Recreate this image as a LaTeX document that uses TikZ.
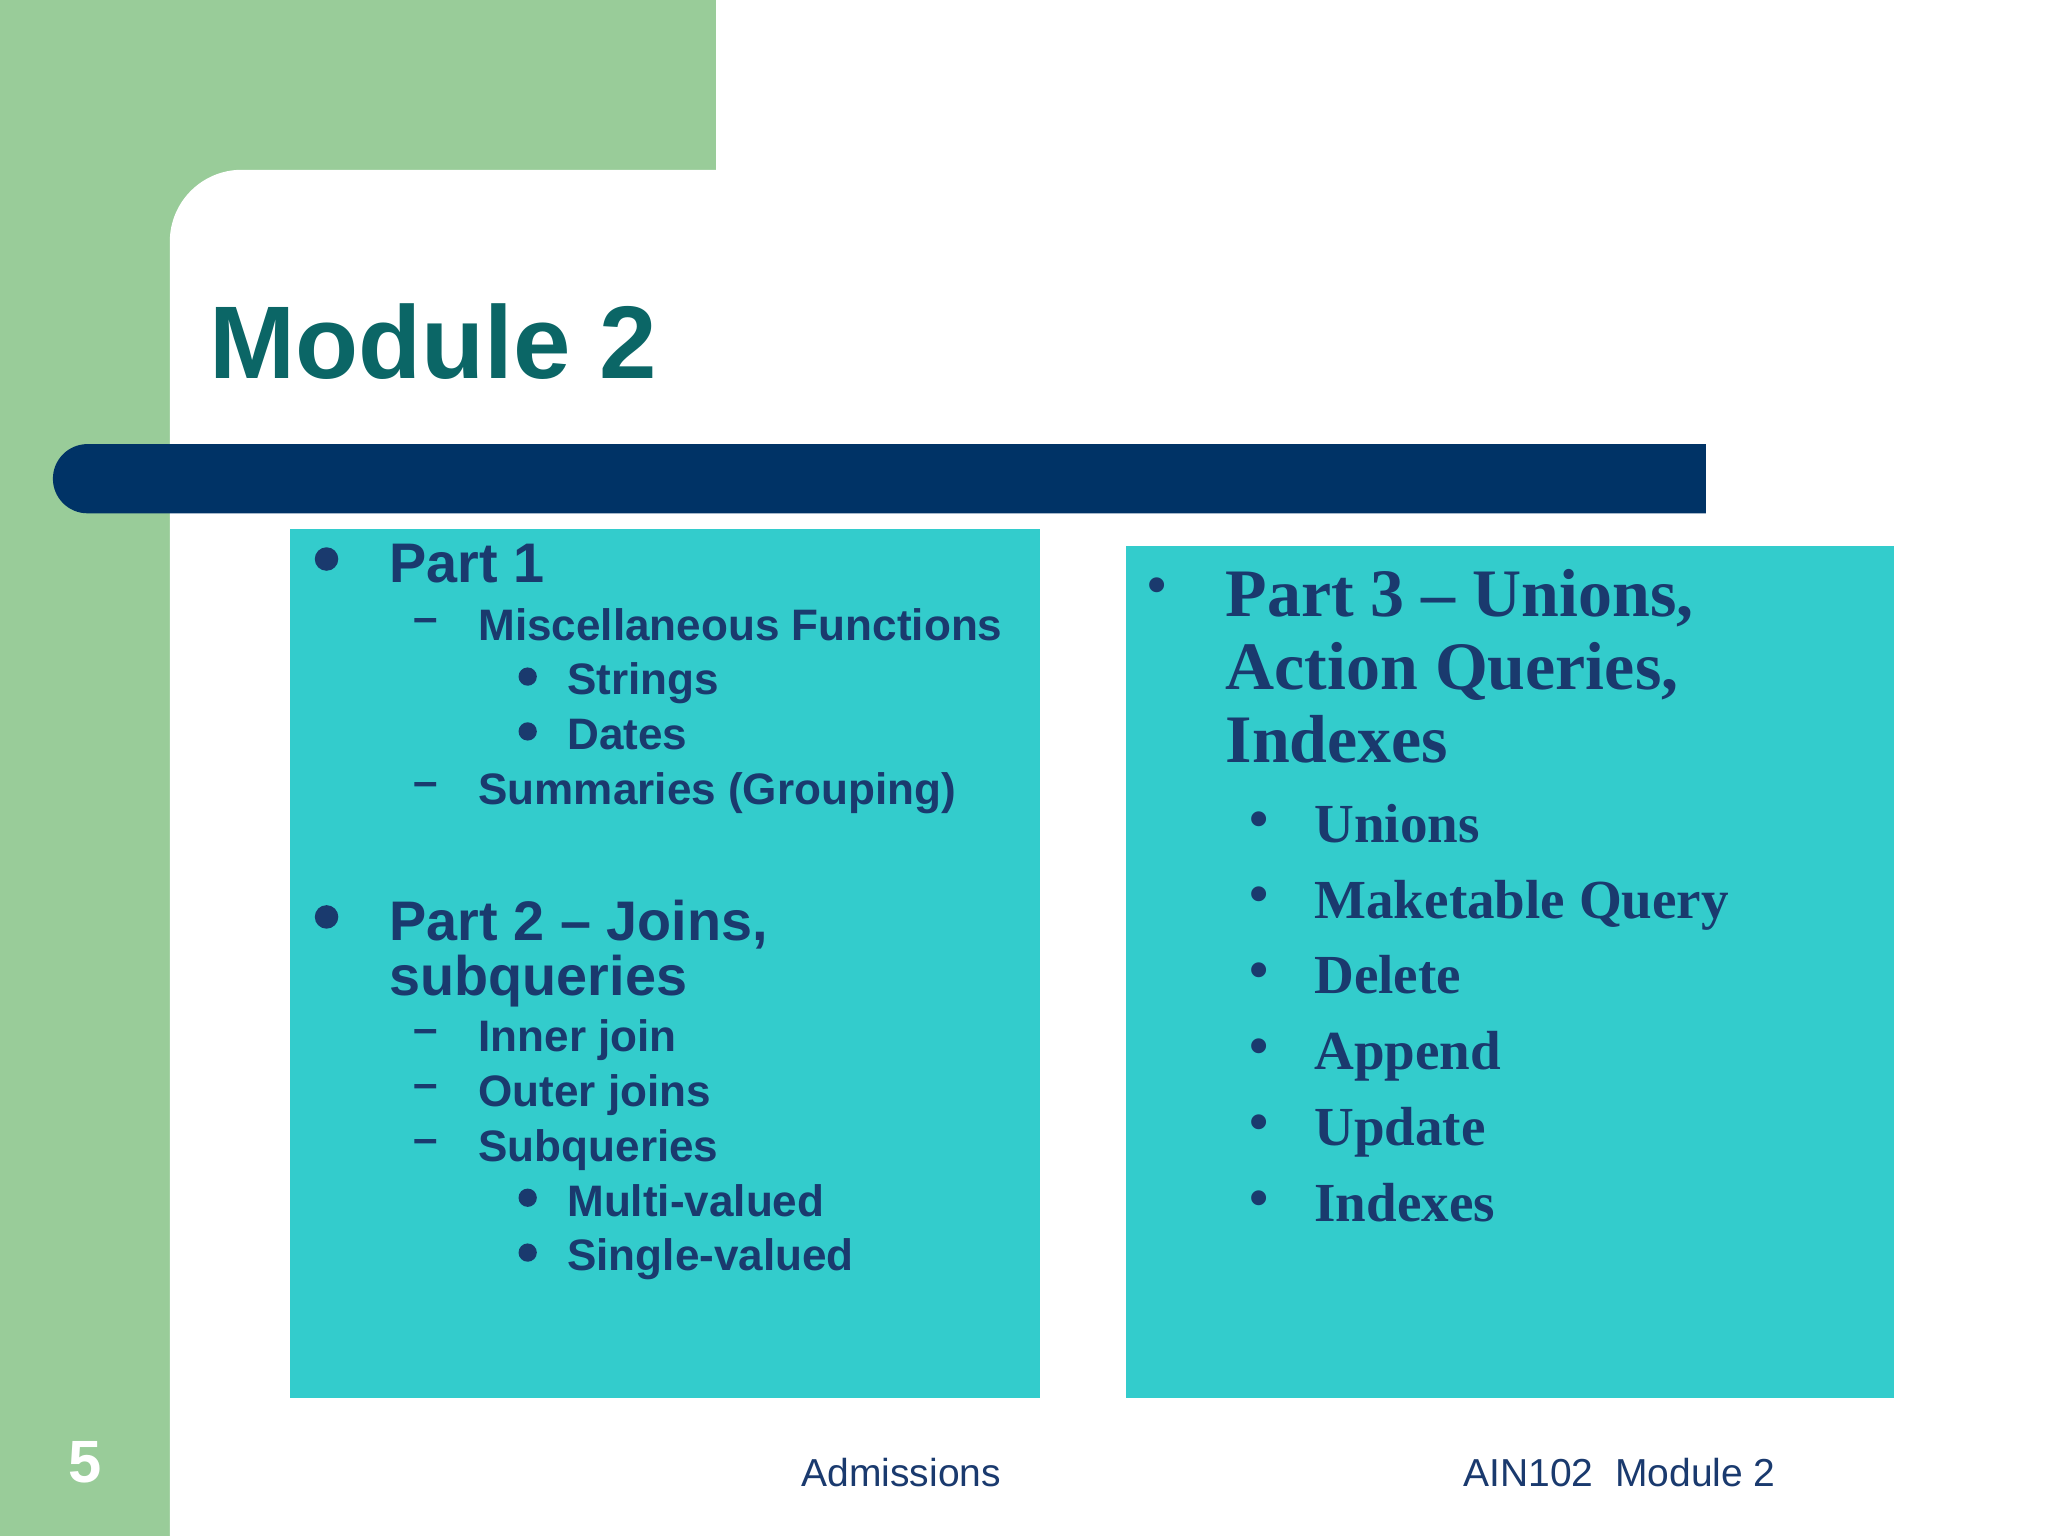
\documentclass[tikz,border=0pt]{standalone}
\usepackage{fontspec}
\setmainfont{Liberation Sans}
\newfontfamily\serifb{Liberation Serif}
\definecolor{lgreen}{HTML}{99CC99}
\definecolor{navy}{HTML}{003366}
\definecolor{teal2}{HTML}{0B6666}
\definecolor{cyanbox}{HTML}{33CCCC}
\definecolor{txt}{HTML}{1A3A6E}
\begin{document}
\begin{tikzpicture}[x=0.02cm,y=-0.02cm,
  lt/.style={anchor=base west,inner sep=0,text=txt,font=\bfseries\fontsize{24.3}{26}\selectfont},
  ls/.style={anchor=base west,inner sep=0,text=txt,font=\bfseries\fontsize{19.2}{21}\selectfont},
  rt/.style={anchor=base west,inner sep=0,text=txt,font=\serifb\bfseries\fontsize{29.6}{31}\selectfont},
  rs/.style={anchor=base west,inner sep=0,text=txt,font=\serifb\bfseries\fontsize{24}{26}\selectfont},
  ft/.style={anchor=base,inner sep=0,text=txt,font=\fontsize{17}{19}\selectfont}]
\useasboundingbox (0,0) rectangle (1568,1176);
\fill[white] (0,0) rectangle (1568,1176);
\fill[lgreen] (0,0) rectangle (548,130);
\fill[lgreen] (0,0) rectangle (130,1176);
\fill[lgreen] (130,130) rectangle (185,185);
\fill[white] (130,1176) -- (130,185) arc[start angle=180,end angle=270,radius=55] -- (548,130) -- (548,1176) -- cycle;
\node[anchor=base west,inner sep=0,text=teal2,font=\bfseries\fontsize{45}{48}\selectfont] (title) at (160,290) {Module 2};
\fill[navy] (1306,340) -- (67,340) arc[start angle=270,end angle=90,radius=26.5] -- (1306,393) -- cycle;
\fill[cyanbox] (222,405) rectangle (796,1070);
\fill[cyanbox] (862,418) rectangle (1450,1070);
% left
\fill[txt] (250,428) circle (9) (404,518) circle (7) (404,560) circle (7) (250,702) circle (9) (404,917) circle (7) (404,959) circle (7);
\node[lt] (p1) at (298,446) {Part 1};
\node[ls] at (316,484) {–}; \node[ls] (m1) at (366,490) {Miscellaneous Functions};
\node[ls] (m2) at (434,532) {Strings};
\node[ls] (m3) at (434,574) {Dates};
\node[ls] at (316,610) {–}; \node[ls] (m4) at (366,616) {Summaries (Grouping)};
\node[lt] (p2) at (298,720) {Part 2 – Joins,};
\node[lt] (p2b) at (298,762) {subqueries};
\node[ls] at (316,799) {–}; \node[ls] (j1) at (366,805) {Inner join};
\node[ls] at (316,841) {–}; \node[ls] (j2) at (366,847) {Outer joins};
\node[ls] at (316,883) {–}; \node[ls] (j3) at (366,889) {Subqueries};
\node[ls] (j4) at (434,931) {Multi-valued};
\node[ls] (j5) at (434,973) {Single-valued};
% right
\node[rs] at (878,462) {•};
\node[rt] (p3) at (938,472) {Part 3 – Unions,};
\node[rt] (p3b) at (938,528) {Action Queries,};
\node[rt] (p3c) at (938,584) {Indexes};
\foreach \y/\t [count=\i] in {645/Unions,703/Maketable Query,761/Delete,819/Append,877/Update,935/Indexes}{
  \node[rs] at (956,\y-4) {•};
  \node[rs] (r\i) at (1006,\y) {\t};
}
\node[anchor=base,inner sep=0,text=white,font=\bfseries\fontsize{26}{28}\selectfont] (num) at (65,1135) {5};
\node[ft] (f1) at (690,1138) {Admissions};
\node[ft] (f2) at (1240,1138) {AIN102\ \ Module 2};
\end{tikzpicture}
\end{document}
